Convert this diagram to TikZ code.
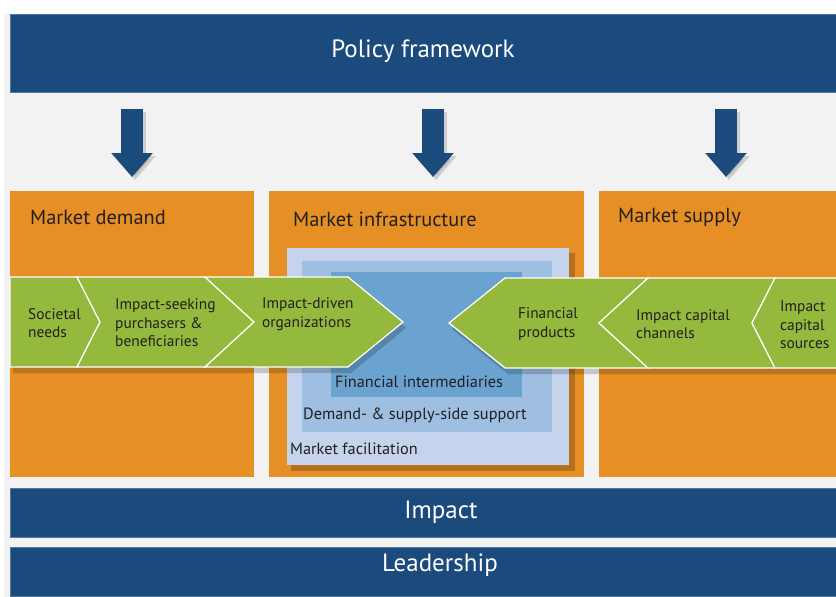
\documentclass[tikz,border=0pt]{standalone}
\usepackage{fontspec}
\setmainfont{PT Sans}
\usepackage{tikz}
\usetikzlibrary{positioning,arrows.meta,calc,backgrounds}

\begin{document}
\begin{tikzpicture}[x=1pt,y=-1pt,
  bar/.style={fill=band,draw=band!75!white,line width=.6pt,inner sep=0pt,anchor=north west},
  bar text/.style={text=white,font=\fontsize{25}{29}\selectfont,inner sep=0pt},
  market/.style={fill=market,inner sep=0pt,anchor=north west},
  title/.style={anchor=west,text=ink,font=\fontsize{20.4}{24}\selectfont,inner sep=0pt},
  layer/.style={inner sep=0pt,anchor=north west},
  layer text/.style={anchor=west,text=ink,font=\fontsize{16.3}{19}\selectfont,inner sep=0pt},
  step text/.style={anchor=west,align=left,text=ink,font=\fontsize{15.4}{18.5}\selectfont,inner sep=0pt},
  chevron/.style={fill=chev,draw=white,line width=1.2pt,line join=miter},
  policy arrow/.style={draw=band,line width=22pt,-{Triangle[width=40pt,length=24pt]},
    shorten <=16pt,shorten >=14pt}]
\definecolor{band}{HTML}{1B4A7D} \definecolor{market}{HTML}{E58F25}
\definecolor{chev}{HTML}{95B93C} \definecolor{ink}{HTML}{231F20}
\definecolor{backg}{HTML}{F2F2F2}
\definecolor{fac}{HTML}{C5D4EC} \definecolor{sup}{HTML}{9EBEE2}
\definecolor{int}{HTML}{6AA2D0}
\useasboundingbox (0,0) rectangle (836,597);
\fill[backg] (4,14) rectangle (836,597);
% bars
\node[bar,minimum width=826pt,minimum height=78pt] (policy) at (10,14) {};
\node[bar,minimum width=826pt,minimum height=49pt] (impact) at (10,488) {};
\node[bar,minimum width=826pt,minimum height=49pt] (leader) at (10,547) {};
\node[bar text] (policyt) at (423,51) {Policy framework};
\node[bar text] (impactt) at (441,512) {Impact};
\node[bar text] (leadert) at (440,565) {Leadership};
% markets
\node[market,minimum width=244pt,minimum height=286pt] (demand) at (10,191) {};
\node[market,minimum width=315pt,minimum height=286pt] (infra) at (269,191) {};
\node[market,minimum width=237pt,minimum height=286pt] (supply) at (599,191) {};
\node[title] (demandt) at (30,217) {Market demand};
\node[title] (infrat) at (293,219) {Market infrastructure};
\node[title] (supplyt) at (618,217) {Market supply};
% infrastructure layers
\fill[black!60!market,opacity=.35] (291,253) rectangle (575,471);
\node[layer,fill=fac,minimum width=282pt,minimum height=217pt] (facil) at (287,248) {};
\node[layer,fill=sup,minimum width=250pt,minimum height=171pt] (support) at (302,261) {};
\node[layer,fill=int,minimum width=191pt,minimum height=125pt] (interm) at (331,272) {};
\node[layer text] (facilt) at (290,449) {Market facilitation};
\node[layer text] (supportt) at (303,415) {Demand- \& supply-side support};
\node[layer text] (intermt) at (335,382) {Financial intermediaries};
% value chain
\fill[black,opacity=.18] (13,283) -- (351,283) -- (406,328) -- (351,373) -- (13,373) -- cycle;
\fill[black,opacity=.18] (452,329) -- (508,284) -- (836,284) -- (836,374) -- (508,374) -- cycle;
\draw[chevron] (10,277) -- (77,277) -- (100,322) -- (77,367) -- (10,367) -- cycle;
\draw[chevron] (77,277) -- (205,277) -- (254,322) -- (205,367) -- (77,367) -- (100,322) -- cycle;
\draw[chevron] (205,277) -- (348,277) -- (403,322) -- (348,367) -- (205,367) -- (254,322) -- cycle;
\draw[chevron] (449,323) -- (505,278) -- (648,278) -- (599,323) -- (648,368) -- (505,368) -- cycle;
\draw[chevron] (599,323) -- (648,278) -- (775,278) -- (752,323) -- (775,368) -- (648,368) -- cycle;
\draw[chevron] (752,323) -- (775,278) -- (837,278) -- (837,368) -- (775,368) -- cycle;
\node[step text] (needs) at (28,323) {Societal\\needs};
\node[step text] (purch) at (115,323) {Impact-seeking\\purchasers \&\\beneficiaries};
\node[step text] (orgs) at (262,314) {Impact-driven\\organizations};
\node[step text] (prods) at (518,324) {Financial\\products};
\node[step text] (chans) at (636,324) {Impact capital\\channels};
\node[step text] (srcs) at (780,325) {Impact\\capital\\sources};
% policy arrows
\coordinate (xdemand) at (132,0);
\coordinate (xinfra) at (433,0);
\coordinate (xsupply) at (726,0);
\foreach \m in {demand,infra,supply}{
  \draw[policy arrow,draw=black,opacity=.15,transform canvas={shift={(3pt,-3pt)}}]
    (policy.south -| x\m) -- (\m.north -| x\m);
  \draw[policy arrow] (policy.south -| x\m) -- (\m.north -| x\m);
}
\end{tikzpicture}
\end{document}
